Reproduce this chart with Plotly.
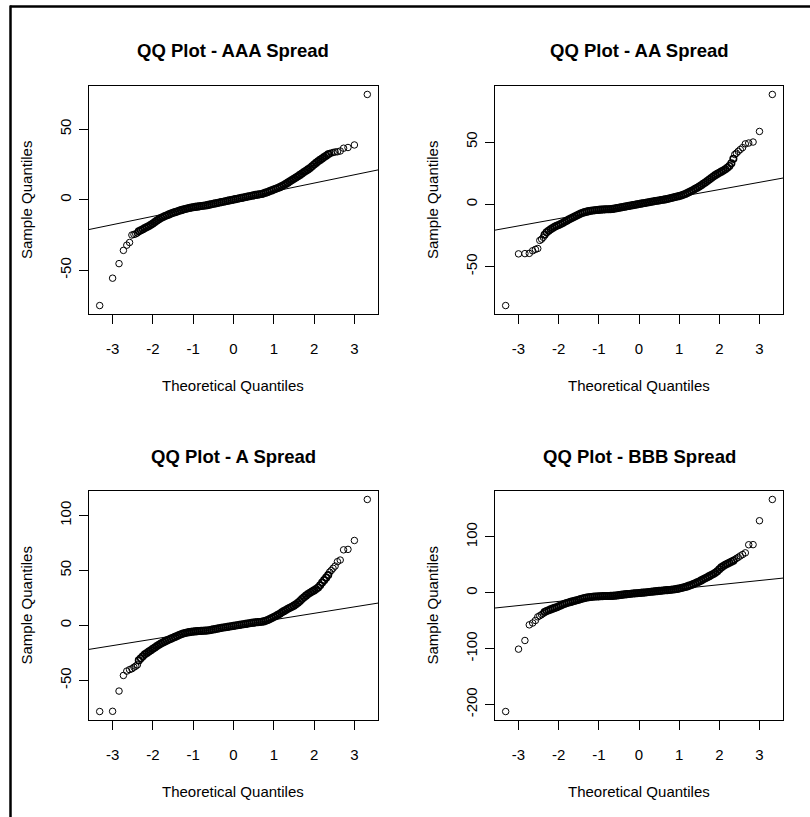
import plotly.graph_objects as go
from statistics import NormalDist
import numpy as np

W, H = 810, 817
N_OBS = 1111  # sample size of each spread series

# theoretical-quantile grid for the dense middle of each sample
body_z = [round(-2.35 + 0.05 * i, 2) for i in range(95)]

x_ticks = [-3, -2, -1, 0, 1, 2, 3]
x_tick_text = ["-3", "-2", "-1", "0", "1", "2", "3"]

titles = ["QQ Plot - AAA Spread", "QQ Plot - AA Spread", "QQ Plot - A Spread", "QQ Plot - BBB Spread"]

# ---------------- AAA ----------------
aaa_lo = [-75.0, -55.6, -45.3, -35.9, -32.2, -30.3, -25.0, -24.6, -24.2, -23.5]
aaa_hi = [32.8, 33.0, 33.5, 33.8, 34.0, 34.5, 36.5, 37.0, 38.8, 74.6]
aaa_body = [
    -22.3, -21.6, -20.9, -20.1, -19.4, -18.7, -17.8, -16.8, -15.8, -14.8,
    -13.9, -13.0, -12.2, -11.6, -11.0, -10.4, -9.8, -9.3, -8.8, -8.3,
    -7.8, -7.4, -7.0, -6.6, -6.2, -5.9, -5.6, -5.3, -5.1, -4.9,
    -4.7, -4.5, -4.3, -4.1, -3.85, -3.5, -3.2, -2.9, -2.6, -2.3,
    -2.0, -1.7, -1.4, -1.1, -0.8, -0.5, -0.2,
    0.1,
    0.4, 0.7, 1.0, 1.3, 1.6, 1.9, 2.2, 2.5, 2.8, 3.1,
    3.4, 3.6, 3.85, 4.1, 4.5, 5.0, 5.5, 6.1, 6.6, 7.2,
    7.7, 8.3, 8.9, 9.6, 10.4, 11.2, 12.1, 13.0, 13.9, 14.8,
    15.7, 16.6, 17.6, 18.6, 19.6, 20.5, 21.5, 22.5, 23.7, 25.0,
    26.1, 27.2, 28.2, 29.2, 30.2, 31.2, 32.2,
]
aaa_yticks = [-50, 0, 50]

# ---------------- AA ----------------
aa_lo = [-81.3, -39.8, -39.6, -39.4, -37.3, -36.2, -35.5, -29.0, -28.0, -26.5]
aa_hi = [40.0, 41.0, 42.5, 44.0, 45.5, 48.5, 49.2, 50.0, 58.5, 88.2]
aa_body = [
    -24.5, -22.5, -21.2, -20.0, -19.0, -18.1, -17.3, -16.6, -15.8, -15.0,
    -14.1, -13.2, -12.3, -11.4, -10.6, -9.8, -9.0, -8.2, -7.4, -6.8,
    -6.3, -5.9, -5.5, -5.2, -5.0, -4.8, -4.6, -4.45, -4.3, -4.15,
    -4.05, -4.0, -3.95, -3.85, -3.7, -3.4, -3.1, -2.8, -2.5, -2.2,
    -1.9, -1.6, -1.3, -1.0, -0.7, -0.4, -0.1,
    0.2,
    0.5, 0.8, 1.1, 1.4, 1.7, 2.0, 2.3, 2.6, 2.9, 3.1,
    3.4, 3.7, 3.95, 4.25, 4.6, 5.0, 5.4, 5.8, 6.2, 6.6,
    7.1, 7.7, 8.3, 9.0, 9.8, 10.6, 11.5, 12.4, 13.3, 14.3,
    15.3, 16.4, 17.5, 18.7, 19.9, 21.1, 22.3, 23.4, 24.4, 25.3,
    26.2, 27.1, 28.1, 29.3, 30.8, 33.0, 36.5,
]
aa_yticks = [-50, 0, 50]

# ---------------- A ----------------
a_lo = [-78.3, -78.1, -59.7, -45.5, -41.5, -40.2, -39.4, -38.0, -37.0, -35.8]
a_hi = [48.5, 50.0, 52.0, 54.0, 58.0, 59.5, 68.8, 69.2, 77.3, 114.6]
a_body = [
    -31.8, -29.8, -28.0, -26.3, -25.0, -23.8, -22.5, -21.2, -20.0, -18.8,
    -17.6, -16.5, -15.5, -14.5, -13.6, -12.8, -12.0, -11.2, -10.4, -9.6,
    -8.8, -8.0, -7.3, -6.8, -6.4, -6.1, -5.8, -5.6, -5.4, -5.2,
    -5.05, -4.95, -4.85, -4.75, -4.6, -4.3, -4.0, -3.6, -3.3, -2.9,
    -2.6, -2.2, -1.9, -1.6, -1.3, -1.0, -0.7,
    -0.4,
    -0.1, 0.2, 0.5, 0.8, 1.1, 1.4, 1.7, 2.0, 2.3, 2.6,
    2.8, 3.0, 3.15, 3.35, 3.7, 4.3, 5.0, 5.8, 6.7, 7.6,
    8.6, 9.6, 10.7, 11.9, 13.0, 14.1, 15.2, 16.1, 17.0, 18.0,
    19.2, 20.6, 22.2, 24.0, 25.6, 27.1, 28.6, 29.8, 30.9, 31.9,
    33.1, 34.5, 36.5, 39.0, 41.2, 43.5, 45.8,
]
a_yticks = [-50, 0, 50, 100]

# ---------------- BBB ----------------
bbb_lo = [-212.4, -100.8, -85.3, -57.3, -54.0, -49.5, -43.0, -41.0, -39.0, -37.0]
bbb_hi = [59.5, 61.5, 63.5, 66.0, 68.5, 71.5, 86.0, 86.2, 129.0, 167.0]
bbb_body = [
    -34.3, -32.6, -31.1, -29.7, -28.3, -27.0, -25.7, -24.2, -22.6, -21.0,
    -19.6, -18.4, -17.3, -16.3, -15.3, -14.4, -13.4, -12.3, -11.2, -10.2,
    -9.3, -8.5, -7.9, -7.4, -7.0, -6.7, -6.5, -6.3, -6.1, -5.9,
    -5.8, -5.7, -5.6, -5.5, -5.4, -5.1, -4.7, -4.2, -3.7, -3.2,
    -2.8, -2.4, -2.0, -1.6, -1.3, -1.0, -0.7,
    -0.4,
    -0.1, 0.3, 0.6, 1.0, 1.4, 1.8, 2.2, 2.6, 3.0, 3.4,
    3.8, 4.2, 4.5, 4.75, 5.1, 5.5, 5.9, 6.4, 7.0, 7.7,
    8.5, 9.4, 10.4, 11.5, 12.8, 14.1, 15.5, 17.0, 18.6, 20.3,
    22.2, 24.1, 26.0, 27.9, 29.8, 31.7, 33.6, 35.7, 38.5, 42.2,
    45.5, 48.0, 50.2, 52.0, 53.8, 55.5, 57.5,
]
bbb_yticks = [-200, -100, 0, 100]

series = [
    (aaa_lo, aaa_body, aaa_hi, aaa_yticks),
    (aa_lo, aa_body, aa_hi, aa_yticks),
    (a_lo, a_body, a_hi, a_yticks),
    (bbb_lo, bbb_body, bbb_hi, bbb_yticks),
]

# panel boxes in pixels (left, right, top, bottom)
boxes = [(89, 378, 86, 314), (495, 783, 86, 314), (89, 378, 491, 720), (495, 783, 491, 720)]

FONT = "Liberation Sans, Arial, Helvetica, sans-serif"
nd = NormalDist()

fig = go.Figure()
layout = dict(
    width=W, height=H, margin=dict(l=0, r=0, t=0, b=0),
    paper_bgcolor="white", plot_bgcolor="white", showlegend=False,
    annotations=[], shapes=[],
)

marker_style = dict(symbol="circle-open", size=6.5, color="black", line=dict(width=1, color="black"))
body_style = dict(symbol="circle-open", size=6.5, color="black", line=dict(width=1.6, color="black"))

for i, ((lo, body, hi, yt), title, (L, R, T, B)) in enumerate(zip(series, titles, boxes)):
    k = "" if i == 0 else str(i + 1)
    n = N_OBS
    z_lo = [nd.inv_cdf((r - 0.5) / n) for r in range(1, len(lo) + 1)]
    z_hi = [nd.inv_cdf((r - 0.5) / n) for r in range(n - len(hi) + 1, n + 1)]
    all_y = lo + body + hi

    zmin, zmax = nd.inv_cdf(0.5 / n), nd.inv_cdf((n - 0.5) / n)
    xr = [zmin - 0.04 * (zmax - zmin), zmax + 0.04 * (zmax - zmin)]
    ymin, ymax = min(all_y), max(all_y)
    yr = [ymin - 0.04 * (ymax - ymin), ymax + 0.04 * (ymax - ymin)]

    # qqline through first and third quartiles
    z25, z75 = nd.inv_cdf(0.25), nd.inv_cdf(0.75)
    q1 = float(np.interp(z25, body_z, body))
    q3 = float(np.interp(z75, body_z, body))
    slope = (q3 - q1) / (z75 - z25)
    icpt = q1 - slope * z25

    fig.add_trace(go.Scatter(
        x=body_z, y=body, mode="markers", xaxis="x" + k, yaxis="y" + k,
        marker=body_style, hoverinfo="skip",
    ))
    fig.add_trace(go.Scatter(
        x=z_lo + z_hi, y=lo + hi, mode="markers", xaxis="x" + k, yaxis="y" + k,
        marker=marker_style, hoverinfo="skip", cliponaxis=False,
    ))
    fig.add_trace(go.Scatter(
        x=xr, y=[icpt + slope * v for v in xr], mode="lines", xaxis="x" + k, yaxis="y" + k,
        line=dict(color="black", width=1), hoverinfo="skip",
    ))

    axis_common = dict(
        showline=True, mirror=True, linecolor="black", linewidth=1,
        showgrid=False, zeroline=False, ticks="outside", ticklen=9, tickwidth=1,
        tickcolor="black", tickfont=dict(family=FONT, size=15, color="black"),
    )
    layout["xaxis" + k] = dict(
        axis_common, domain=[L / W, R / W], range=xr, anchor="y" + k,
        tickmode="array", tickvals=x_ticks, ticktext=x_tick_text, ticklabelstandoff=12,
    )
    layout["yaxis" + k] = dict(
        axis_common, domain=[1 - B / H, 1 - T / H], range=yr, anchor="x" + k,
        tickmode="array", tickvals=yt, ticktext=[str(v) for v in yt], tickangle=-90,
        ticklabelstandoff=2,
    )

    cx = (L + R) / 2 / W
    cy = 1 - (T + B) / 2 / H
    layout["annotations"] += [
        dict(text="<b>" + title + "</b>", x=cx, y=1 - (T - 35) / H, xref="paper", yref="paper",
             showarrow=False, xanchor="center", yanchor="middle",
             font=dict(family=FONT, size=18.5, color="black")),
        dict(text="Theoretical Quantiles", x=cx, y=1 - (B + 71) / H, xref="paper", yref="paper",
             showarrow=False, xanchor="center", yanchor="middle",
             font=dict(family=FONT, size=15, color="black")),
        dict(text="Sample Quantiles", x=(L - 63) / W, y=cy, xref="paper", yref="paper",
             showarrow=False, xanchor="center", yanchor="middle", textangle=-90,
             font=dict(family=FONT, size=15, color="black")),
    ]

# outer frame (top and left edges)
layout["shapes"] += [
    dict(type="line", xref="paper", yref="paper", x0=10 / W, x1=1, y0=1 - 6.5 / H, y1=1 - 6.5 / H,
         line=dict(color="black", width=2.5)),
    dict(type="line", xref="paper", yref="paper", x0=10.5 / W, x1=10.5 / W, y0=0, y1=1 - 5.5 / H,
         line=dict(color="black", width=2.5)),
]

fig.update_layout(**layout)
fig.write_html(
    "out.html",
    config={"displayModeBar": False},
    post_script="document.body.style.margin='0px';document.body.style.overflow='hidden';",
)
